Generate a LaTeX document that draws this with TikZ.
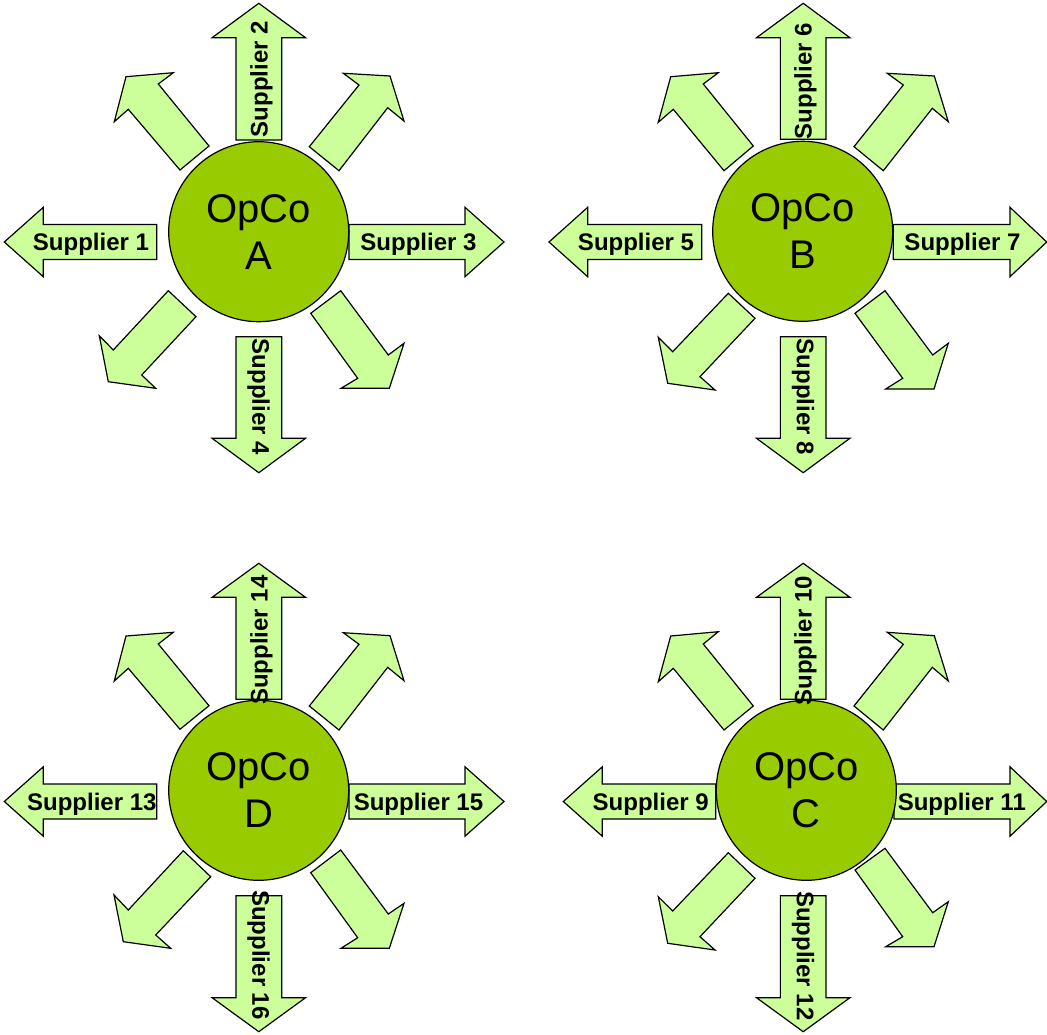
\documentclass[tikz,border=0pt]{standalone}
\usepackage{fontspec}
\setmainfont{Liberation Sans}
\definecolor{hubgreen}{HTML}{99CC00}
\definecolor{arrgreen}{HTML}{CCFF99}
\tikzset{
  arr/.style={draw=black, fill=arrgreen, line width=1.2pt, line join=miter},
  opco/.style={circle, draw=black, fill=hubgreen, line width=1.2pt, minimum size=180pt, inner sep=0pt, align=center, font=\fontsize{40}{47}\selectfont},
  lab/.style={inner sep=0pt, font=\fontsize{24}{28}\selectfont\bfseries},
  labup/.style={lab, rotate=90},
  labdown/.style={lab, rotate=-90}
}
% horizontal block arrow: shaft end x, head base x, tip x, centre y
\newcommand{\harr}[4]{\draw[arr] (#1,#4-17.5) -- (#2,#4-17.5) -- (#2,#4-34.7) -- (#3,#4) -- (#2,#4+34.7) -- (#2,#4+17.5) -- (#1,#4+17.5) -- cycle;}
% vertical block arrow: centre x, shaft end y, head base y, tip y
\newcommand{\varr}[4]{\draw[arr] (#1-22.85,#2) -- (#1-22.85,#3) -- (#1-46.7,#3) -- (#1,#4) -- (#1+46.7,#3) -- (#1+22.85,#3) -- (#1+22.85,#2) -- cycle;}
\begin{document}
\begin{tikzpicture}[x=1pt,y=-1pt]
\useasboundingbox (0,0) rectangle (1047,1034);

% ---------- arrows, group A ----------
\harr{156.7}{43.3}{4.3}{242}
\harr{349}{465}{504}{242}
\varr{258.8}{140}{37.7}{3.3}
\varr{258.8}{336.7}{438.3}{472.7}
\draw[arr] (180,170) -- (128.3,109.3) -- (114.3,121.7) -- (126,76.7) -- (173.3,72.7) -- (158.3,84) -- (209,146) -- cycle;
\draw[arr] (309.3,146.7) -- (359,85) -- (343.3,73.3) -- (390,76) -- (404,121) -- (387.7,107.7) -- (339,170.7) -- cycle;
\draw[arr] (168.3,290.7) -- (113.3,350) -- (99.3,335.7) -- (108.3,381.7) -- (155.7,388.3) -- (141.7,375) -- (196,316.7) -- cycle;
\draw[arr] (310.7,313.3) -- (357.7,378.3) -- (341,388.3) -- (389.3,388.3) -- (404,343.3) -- (388.3,355) -- (340.7,290.7) -- cycle;

% ---------- arrows, group B ----------
\harr{701.7}{587.7}{549}{242}
\harr{893.3}{1010}{1046.7}{242}
\varr{803.2}{139.3}{37.7}{3.3}
\varr{803.2}{336.7}{438.3}{472.7}
\draw[arr] (724,170.7) -- (673.3,109.3) -- (658.3,122.3) -- (670.7,76.7) -- (718.3,72.7) -- (703.3,84) -- (753.3,146) -- cycle;
\draw[arr] (854,146.7) -- (903.3,85) -- (887.3,73.3) -- (934.3,76) -- (948.3,121.7) -- (932.3,108.3) -- (883.3,170.7) -- cycle;
\draw[arr] (728.3,293.3) -- (672.7,351.7) -- (658.3,337.3) -- (667.7,383.3) -- (715,390) -- (700,376.7) -- (755,318.3) -- cycle;
\draw[arr] (855,313.3) -- (902.7,378.3) -- (885.7,389) -- (934,389) -- (948.3,343.3) -- (932.7,355) -- (885,290.7) -- cycle;

% ---------- arrows, group D ----------
\harr{156.7}{43.3}{4.3}{801.5}
\harr{349}{465}{504}{801.5}
\varr{258.8}{699.3}{597.3}{563.3}
\varr{258.8}{895.7}{997.7}{1031.7}
\draw[arr] (180,729.3) -- (128.3,668.3) -- (114.3,681) -- (126,636) -- (173.3,632.3) -- (158.3,644) -- (209,705.7) -- cycle;
\draw[arr] (309.3,706) -- (359,644.3) -- (343.3,632.7) -- (390,635.7) -- (404,680.7) -- (387.7,667.3) -- (339,730) -- cycle;
\draw[arr] (183.3,850.7) -- (128.3,910) -- (114,895) -- (123.3,941.7) -- (170.7,948.3) -- (155.7,935) -- (210.7,876.7) -- cycle;
\draw[arr] (310.7,872.7) -- (357.7,937.7) -- (341,948.3) -- (389.3,948.3) -- (404,903.3) -- (388.3,914) -- (340.7,850) -- cycle;

% ---------- arrows, group C ----------
\harr{715.7}{602.3}{563.3}{801.5}
\harr{894}{1010}{1046.7}{801.5}
\varr{803.2}{699.3}{597.3}{563.3}
\varr{803.2}{895.7}{997.7}{1031.7}
\draw[arr] (724,730) -- (673.3,668.3) -- (658.3,681.7) -- (670.7,636) -- (718.3,631.7) -- (703.3,644) -- (753.3,706) -- cycle;
\draw[arr] (854,706) -- (903.3,644.3) -- (887.3,632.3) -- (934.3,635.7) -- (948.3,681) -- (932.3,667.3) -- (883.3,730) -- cycle;
\draw[arr] (728.3,852.7) -- (672.7,911) -- (658.3,896.7) -- (667.7,943.3) -- (715,950) -- (700,936.7) -- (755,878.3) -- cycle;
\draw[arr] (855,870) -- (902.7,936.7) -- (885.7,946.7) -- (934,946.7) -- (948.3,901.7) -- (932.7,912.7) -- (885,848.3) -- cycle;

% ---------- hubs ----------
\node[opco] (opcoA) at (258.7,231.7) {OpCo\\A};
\node[opco] (opcoB) at (802.7,231.3) {OpCo\\B};
\node[opco] (opcoD) at (258.7,790.3) {OpCo\\D};
\node[opco] (opcoC) at (806.3,790.3) {OpCo\\C};

% ---------- labels ----------
\node[lab] (s1) at (91,244.5) {Supplier 1};
\node[labup] (s2) at (261.3,79) {Supplier 2};
\node[lab] (s3) at (418.5,244.5) {Supplier 3};
\node[labdown] (s4) at (258.5,396.7) {Supplier 4};

\node[lab] (s5) at (636,244.5) {Supplier 5};
\node[labup] (s6) at (805.5,81) {Supplier 6};
\node[lab] (s7) at (962.5,244.5) {Supplier 7};
\node[labdown] (s8) at (803,396.7) {Supplier 8};

\node[lab] (s13) at (91.8,804) {Supplier 13};
\node[labup] (s14) at (261.3,640) {Supplier 14};
\node[lab] (s15) at (418.5,804) {Supplier 15};
\node[labdown] (s16) at (258.5,955) {Supplier 16};

\node[lab] (s9) at (650.7,804) {Supplier 9};
\node[labup] (s10) at (805.5,640.8) {Supplier 10};
\node[lab] (s11) at (961.8,804) {Supplier 11};
\node[labdown] (s12) at (803,955.8) {Supplier 12};
\end{tikzpicture}
\end{document}
